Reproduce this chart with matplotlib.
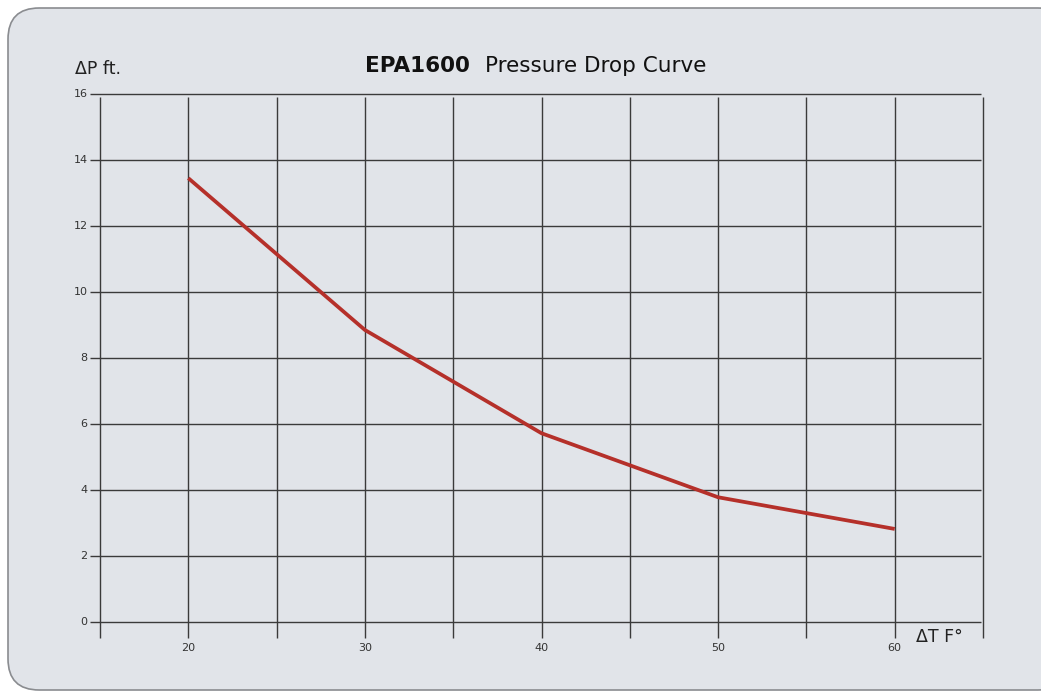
import matplotlib
matplotlib.use('Agg')
from matplotlib import pyplot as plt
from matplotlib.patches import FancyBboxPatch

# data
delta_t = [20, 30, 40, 50, 60]
delta_p = [13.45, 8.85, 5.72, 3.78, 2.82]
x_grid = [15, 20, 25, 30, 35, 40, 45, 50, 55, 60, 65]
x_labels = [20, 30, 40, 50, 60]
y_ticks = [0, 2, 4, 6, 8, 10, 12, 14, 16]

W, H = 1041, 693
fig = plt.figure(figsize=(W / 100, H / 100), dpi=100, facecolor='white')

# rounded gray panel, drawn behind the axes
panel = FancyBboxPatch((8 / W, 3 / H), (W + 20) / W, 682 / H,
                       boxstyle='round,pad=0,rounding_size=0.03',
                       transform=fig.transFigure, facecolor='#e1e4e9',
                       edgecolor='#8a8c90', linewidth=1.2, mutation_aspect=W / H,
                       zorder=-10)
fig.patches.append(panel)

ax = fig.add_axes([100 / W, 71 / H, 883 / W, 528 / H])
ax.set_zorder(5)
ax.set_xlim(15, 65)
ax.set_ylim(0, 16)
ax.patch.set_alpha(0)
for s in ax.spines.values():
    s.set_visible(False)
ax.set_xticks([])
ax.set_yticks([])

gc = '#3a3a3a'
ax.hlines(y_ticks, 14.43, 64.89, color=gc, lw=1.0, clip_on=False)
ax.vlines(x_grid, -0.485, 15.91, color=gc, lw=1.0, clip_on=False)

for y in y_ticks:
    ax.text(14.3, y, str(y), ha='right', va='center', fontsize=8, color='#333333')
for x in x_labels:
    ax.text(x, -0.8, str(x), ha='center', va='center', fontsize=8, color='#333333')

ax.plot(delta_t, delta_p, color='#b5302a', lw=2.7, solid_capstyle='butt', clip_on=False)

ax.text(13.6, 16.5, 'ΔP ft.', ha='left', va='bottom', fontsize=12.5, color='#222222')
ax.text(61.2, -0.45, 'ΔT F°', ha='left', va='center', fontsize=12.5, color='#222222')

fig.text(365 / W, 1 - 66 / H, 'EPA1600', ha='left', va='center', fontsize=15.5,
         fontweight='bold', color='#111111')
fig.text(485 / W, 1 - 66 / H, 'Pressure Drop Curve', ha='left', va='center',
         fontsize=15.5, color='#111111')

fig.savefig('out.png', dpi=100, facecolor='white')
